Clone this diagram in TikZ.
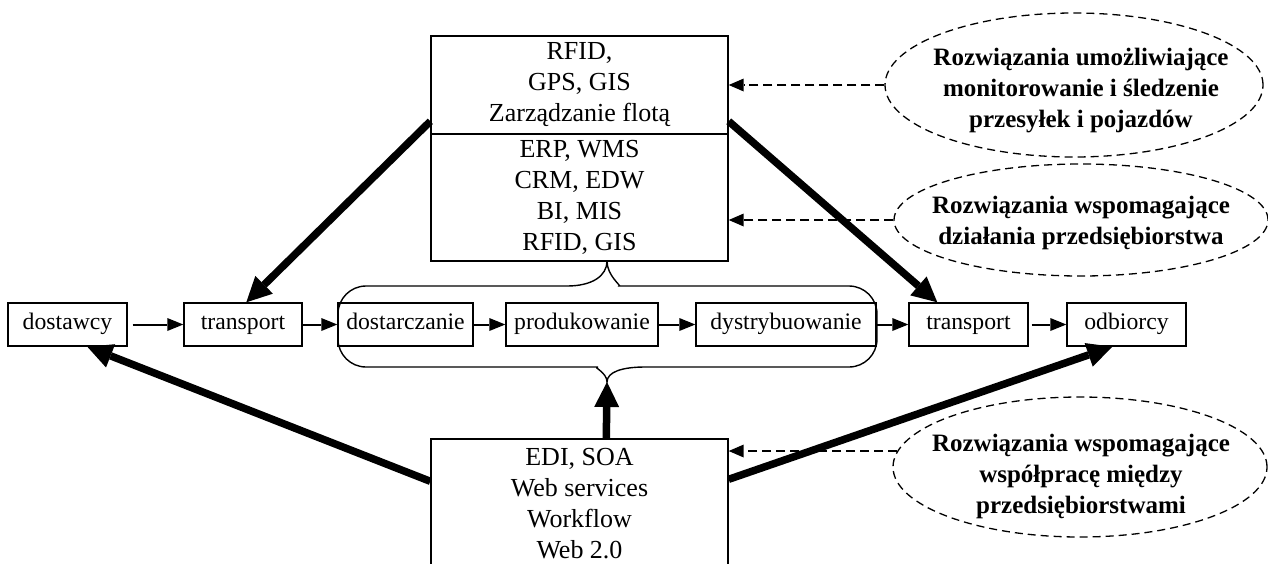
\documentclass[tikz,border=0pt]{standalone}
\usepackage{fontspec}
\setmainfont{Liberation Serif}
\usetikzlibrary{arrows.meta,calc,shapes.geometric}
\begin{document}
\begin{tikzpicture}[x=1pt,y=-1pt,
  stage/.style={draw, line width=1.4pt, minimum height=43pt, inner sep=0pt,
    text height=16pt, text depth=6pt, font=\fontsize{23.7}{28}\selectfont},
  sysbox/.style={draw, line width=1.4pt, inner sep=0pt, align=center,
    minimum width=297pt, font=\fontsize{26}{31}\selectfont},
  flow/.style={line width=2pt, -{Triangle[length=16pt,width=13pt,line width=0pt]}},
  bigflow/.style={line width=7.5pt, -{Triangle[length=25pt,width=25pt,line width=0pt]}},
  dotflow/.style={line width=1.6pt, dash pattern=on 9pt off 5pt,
    -{Triangle[length=15pt,width=13pt,line width=0pt]}},
  area/.style={draw, ellipse, line width=1.3pt, dash pattern=on 8pt off 5pt, inner sep=0pt},
  areatext/.style={align=center, font=\bfseries\fontsize{25}{31}\selectfont},
  bracket/.style={line width=1.4pt}
]
\useasboundingbox (0,0) rectangle (1268,563);
\clip (0,0) rectangle (1268,563);

% supply chain stages
\node[stage, minimum width=119pt] (sup) at (67.5,324.5) {dostawcy};
\node[stage, minimum width=118pt] (tr1) at (243,324.5) {transport};
\node[stage, minimum width=135pt] (del) at (405.5,324.5) {dostarczanie};
\node[stage, minimum width=152pt] (pro) at (582,324.5) {produkowanie};
\node[stage, minimum width=180pt] (dis) at (786,324.5) {dystrybuowanie};
\node[stage, minimum width=119pt] (tr2) at (968.5,324.5) {transport};
\node[stage, minimum width=119pt] (rec) at (1126.5,324.5) {odbiorcy};

\draw[flow, shorten <=5pt] (sup) -- (tr1);
\draw[flow] (tr1) -- (del);
\draw[flow] (del) -- (pro);
\draw[flow] (pro) -- (dis);
\draw[flow] (dis) -- (tr2);
\draw[flow, shorten <=3pt] (tr2) -- (rec);

% IT systems
\node[sysbox, minimum height=98pt] (topA) at (579.5,85) {RFID,\\GPS, GIS\\Zarządzanie flotą};
\node[sysbox, minimum height=127pt] (topB) at (579.5,197.5) {ERP, WMS\\CRM, EDW\\BI, MIS\\RFID, GIS};
\node[sysbox, minimum height=130pt] (bot) at (579.5,504) {EDI, SOA\\Web services\\Workflow\\Web 2.0};

% curly bracket around the internal stages
\coordinate (cuspT) at (607,261);
\coordinate (cuspB) at (607,382);
\draw[bracket] (cuspT) .. controls (607,276) and (592,286) .. (567,286)
  {[rounded corners=28pt] -- (338,286) -- (338,367) -- (570,367)}
  .. controls (592,367) and (607,372) .. (cuspB)
  .. controls (607,372) and (622,367) .. (645,367)
  {[rounded corners=28pt] -- (877,367) -- (877,286) -- (647,286)}
  .. controls (622,286) and (607,276) .. (cuspT);

% thick connectors
\draw[bigflow] ($(topA.north west)+(0,86)$) -- ($(tr1.north west)+(63,0)$);
\draw[bigflow] ($(topA.north east)+(0,86)$) -- ($(tr2.north west)+(29,0)$);
\draw[bigflow] ($(bot.north west)+(0,43)$) -- ($(sup.south west)+(80,0)$);
\draw[bigflow] ($(bot.north east)+(0,41)$) -- ($(rec.south west)+(46,0)$);
\draw[bigflow] ($(bot.north west)+(176,0)$) -- (cuspB);

% solution categories
\node[area, minimum width=378pt, minimum height=144pt] (e1) at (1074,85) {};
\node[areatext] (t1) at (1081,91) {Rozwiązania umożliwiające\\monitorowanie i śledzenie\\przesyłek i pojazdów};
\node[area, minimum width=374pt, minimum height=112pt] (e2) at (1081,220) {};
\node[areatext] (t2) at (1081,223) {Rozwiązania wspomagające\\działania przedsiębiorstwa};
\node[area, minimum width=374pt, minimum height=140pt] (e3) at (1080,467) {};
\node[areatext] (t3) at (1081,476) {Rozwiązania wspomagające\\współpracę między\\przedsiębiorstwami};

\draw[dotflow] (e1.west) -- (e1.west -| topA.east);
\draw[dotflow] (e2.west) -- (e2.west -| topB.east);
\draw[dotflow] (e3.175) -- (e3.175 -| bot.east);
\end{tikzpicture}
\end{document}
